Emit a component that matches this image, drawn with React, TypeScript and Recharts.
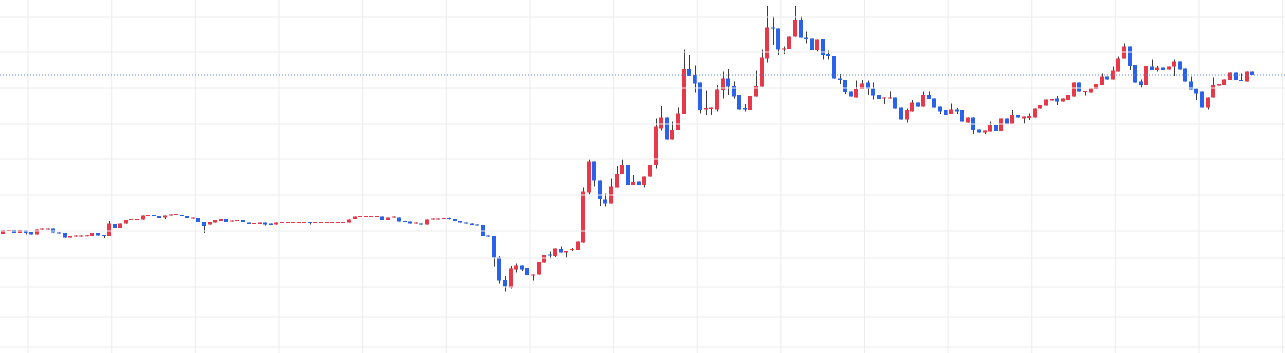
import { ComposedChart, Bar, XAxis, YAxis, ReferenceLine } from "recharts";

// daily OHLC (15 sessions per row = one grid column)
const opens = [
  2660, 2690, 2700, 2670, 2695, 2680, 2655, 2705, 2705, 2715, 2675, 2670, 2625, 2635, 2635,
  2638, 2640, 2670, 2650, 2640, 2760, 2720, 2765, 2800, 2800, 2805, 2840, 2850, 2840, 2825,
  2845, 2850, 2850, 2840, 2815, 2820, 2780, 2755, 2775, 2790, 2810, 2785, 2790, 2800, 2775,
  2760, 2760, 2775, 2765, 2755, 2770, 2770, 2770, 2770, 2770, 2780, 2770, 2770, 2770, 2770,
  2770, 2770, 2775, 2810, 2830, 2830, 2830, 2830, 2835, 2800, 2825, 2825, 2790, 2785, 2765,
  2765, 2755, 2805, 2805, 2810, 2820, 2810, 2790, 2775, 2765, 2755, 2750, 2645, 2640, 2425,
  2200, 2125, 2305, 2345, 2320, 2245, 2255, 2375, 2455, 2440, 2510, 2475, 2500, 2500, 2575,
  3075, 3385, 3195, 3005, 2965, 3125, 3260, 3350, 3150, 3185, 3150, 3235, 3350, 3715, 3825,
  3605, 3700, 3860, 4310, 4250, 4175, 3905, 3910, 3905, 4100, 4215, 4140, 4050, 3920, 3900,
  4035, 4135, 4415, 4725, 4715, 4505, 4510, 4635, 4800, 4625, 4615, 4500, 4610, 4460, 4440,
  4215, 4200, 4085, 4025, 4110, 4175, 4115, 4050, 4015, 4015, 4025, 3925, 3805, 3885, 3975,
  3935, 4050, 4015, 3935, 3900, 3860, 3905, 3900, 3775, 3825, 3705, 3675, 3685, 3750, 3690,
  3815, 3760, 3850, 3815, 3820, 3825, 3915, 3945, 3995, 4015, 3985, 4000, 4035, 4175, 4080,
  4075, 4110, 4150, 4235, 4205, 4285, 4415, 4535, 4350, 4185, 4150, 4335, 4300, 4325, 4305,
  4335, 4385, 4315, 4185, 4115, 4085, 3925, 4025, 4145, 4150, 4200, 4275, 4200, 4185, 4285,
];

const highs = [
  2695, 2700, 2700, 2700, 2695, 2680, 2705, 2715, 2715, 2715, 2675, 2670, 2640, 2645, 2645,
  2648, 2670, 2670, 2650, 2790, 2760, 2765, 2800, 2810, 2810, 2845, 2850, 2850, 2840, 2845,
  2855, 2860, 2850, 2840, 2825, 2820, 2780, 2780, 2800, 2810, 2810, 2795, 2800, 2800, 2775,
  2770, 2775, 2775, 2765, 2775, 2780, 2780, 2780, 2780, 2780, 2780, 2780, 2780, 2780, 2780,
  2780, 2780, 2805, 2835, 2840, 2840, 2840, 2840, 2835, 2825, 2835, 2825, 2790, 2785, 2775,
  2765, 2805, 2815, 2815, 2820, 2825, 2810, 2790, 2775, 2765, 2755, 2750, 2645, 2640, 2440,
  2240, 2340, 2365, 2345, 2320, 2255, 2380, 2450, 2485, 2515, 2535, 2490, 2520, 2585, 3125,
  3405, 3385, 3195, 3065, 3215, 3340, 3405, 3350, 3250, 3185, 3235, 3350, 3815, 3940, 3825,
  3785, 3925, 4505, 4450, 4345, 4175, 4095, 3925, 4150, 4285, 4310, 4185, 4050, 3960, 4040,
  4295, 4505, 4940, 4835, 4715, 4535, 4635, 4940, 4835, 4685, 4615, 4605, 4610, 4495, 4440,
  4260, 4200, 4085, 4195, 4200, 4195, 4175, 4050, 4025, 4085, 4025, 3925, 3915, 4000, 3975,
  4085, 4085, 4015, 3935, 3900, 3965, 3920, 3900, 3825, 3825, 3705, 3695, 3785, 3750, 3815,
  3815, 3900, 3850, 3835, 3865, 3915, 3950, 4005, 4010, 4040, 4015, 4050, 4175, 4175, 4090,
  4115, 4160, 4265, 4235, 4335, 4435, 4565, 4535, 4350, 4205, 4340, 4405, 4340, 4325, 4335,
  4405, 4385, 4315, 4235, 4115, 4085, 4025, 4225, 4160, 4205, 4275, 4275, 4265, 4285, 4285,
];

const lows = [
  2660, 2690, 2670, 2670, 2655, 2655, 2655, 2705, 2705, 2675, 2665, 2625, 2625, 2635, 2635,
  2638, 2640, 2645, 2620, 2640, 2720, 2720, 2765, 2800, 2800, 2805, 2840, 2840, 2820, 2810,
  2845, 2850, 2840, 2820, 2815, 2780, 2670, 2755, 2775, 2790, 2780, 2785, 2790, 2780, 2760,
  2760, 2760, 2745, 2750, 2755, 2770, 2770, 2770, 2770, 2770, 2755, 2770, 2770, 2770, 2770,
  2770, 2770, 2775, 2810, 2830, 2830, 2830, 2830, 2800, 2800, 2825, 2785, 2780, 2765, 2765,
  2755, 2755, 2805, 2805, 2810, 2805, 2790, 2775, 2765, 2750, 2745, 2640, 2635, 2335, 2165,
  2085, 2115, 2275, 2290, 2250, 2195, 2255, 2375, 2415, 2430, 2475, 2425, 2490, 2500, 2575,
  3055, 3135, 2940, 2935, 2965, 3125, 3260, 3150, 3150, 3150, 3125, 3235, 3315, 3695, 3605,
  3605, 3700, 3860, 4240, 4075, 3865, 3850, 3850, 3885, 4015, 4050, 4015, 3905, 3885, 3900,
  4035, 4135, 4375, 4550, 4450, 4460, 4510, 4635, 4625, 4565, 4500, 4485, 4405, 4405, 4215,
  4160, 4060, 4035, 4025, 4110, 4050, 4005, 4010, 3960, 4015, 3915, 3805, 3775, 3885, 3935,
  3935, 4010, 3925, 3860, 3850, 3860, 3860, 3785, 3775, 3660, 3675, 3660, 3685, 3690, 3690,
  3760, 3760, 3825, 3765, 3800, 3825, 3915, 3945, 3995, 3950, 3985, 4000, 4035, 4085, 4045,
  4075, 4110, 4150, 4205, 4205, 4285, 4415, 4300, 4175, 4125, 4150, 4300, 4285, 4300, 4305,
  4240, 4305, 4185, 4105, 4000, 3925, 3905, 4025, 4145, 4150, 4200, 4200, 4190, 4185, 4250,
];

const closes = [
  2695, 2700, 2670, 2700, 2670, 2655, 2705, 2715, 2715, 2675, 2665, 2625, 2640, 2645, 2645,
  2648, 2670, 2645, 2640, 2765, 2720, 2765, 2800, 2810, 2810, 2845, 2850, 2840, 2820, 2845,
  2855, 2860, 2840, 2820, 2825, 2780, 2740, 2780, 2800, 2810, 2780, 2795, 2800, 2780, 2760,
  2770, 2775, 2755, 2750, 2775, 2780, 2780, 2780, 2780, 2780, 2770, 2780, 2780, 2780, 2780,
  2780, 2780, 2805, 2835, 2840, 2840, 2840, 2840, 2800, 2825, 2835, 2785, 2780, 2765, 2775,
  2755, 2805, 2815, 2815, 2820, 2815, 2790, 2775, 2765, 2750, 2745, 2640, 2635, 2425, 2195,
  2135, 2315, 2345, 2305, 2250, 2255, 2380, 2450, 2445, 2515, 2475, 2490, 2510, 2585, 3085,
  3385, 3195, 3010, 2965, 3135, 3260, 3350, 3150, 3180, 3150, 3235, 3350, 3735, 3825, 3605,
  3700, 3865, 4310, 4240, 4165, 3900, 3920, 3925, 4105, 4215, 4135, 4035, 3905, 3905, 4040,
  4140, 4425, 4725, 4715, 4505, 4515, 4635, 4800, 4625, 4610, 4500, 4605, 4450, 4440, 4215,
  4200, 4080, 4035, 4110, 4165, 4115, 4045, 4010, 4025, 4025, 3915, 3805, 3900, 3975, 3935,
  4050, 4010, 3925, 3885, 3850, 3905, 3885, 3785, 3825, 3700, 3675, 3695, 3750, 3690, 3815,
  3760, 3850, 3825, 3835, 3840, 3915, 3950, 4005, 4010, 3985, 4015, 4050, 4175, 4085, 4090,
  4115, 4160, 4235, 4205, 4295, 4415, 4535, 4340, 4175, 4150, 4340, 4300, 4325, 4300, 4335,
  4385, 4305, 4185, 4105, 4065, 3925, 4025, 4150, 4160, 4205, 4275, 4200, 4190, 4285, 4250,
];

const priceGrid = [4830, 4480, 4120, 3760, 3410, 3050, 2690, 2420, 2130, 1830, 1530];
const dayGrid = [4.5, 19.5, 34.5, 49.5, 64.5, 79.5, 94.5, 109.5, 124.5, 139.5, 154.5, 169.5, 184.5, 199.5, 214.5, 229.5];
const lastPrice = 4250;

const UP = "#e8394a";
const DOWN = "#2a62ec";
const GRID = "#ececec";

const data = opens.map((open, i) => ({
  idx: i,
  open,
  high: highs[i],
  low: lows[i],
  close: closes[i],
}));

function Candle(props: any) {
  const { x, y, width, height, payload } = props;
  if (!payload) return null;
  const { open, high, low, close } = payload;
  const color = close >= open ? UP : DOWN;
  const ratio = height / (high - low || 1);
  const cx = Math.round(x + width / 2);
  const bodyTop = y + (high - Math.max(open, close)) * ratio;
  const bodyH = Math.max(1, Math.abs(open - close) * ratio);
  return (
    <g>
      <rect x={cx} y={y} width={1} height={Math.max(height, 1)} fill="#3d3d3d" />
      <rect x={cx - 2} y={bodyTop} width={4} height={bodyH} fill={color} />
    </g>
  );
}

export default function App() {
  return (
    <div style={{ position: "absolute", left: 0, top: 0, width: 1285, height: 353, background: "#fff" }}>
      <ComposedChart width={1285} height={353} data={data} margin={{ top: 0, right: 0, bottom: 0, left: 0 }}>
        <XAxis
          dataKey="idx"
          type="number"
          domain={[-0.54, 229.91]}
          allowDataOverflow
          hide
        />
        <YAxis type="number" domain={[1470, 5000]} allowDataOverflow hide />
        {priceGrid.map((p) => (
          <ReferenceLine key={"h" + p} y={p} stroke={GRID} strokeWidth={1} />
        ))}
        {dayGrid.map((d) => (
          <ReferenceLine key={"v" + d} x={d} stroke={GRID} strokeWidth={1} />
        ))}
        <ReferenceLine y={lastPrice} stroke="#5a82f0" strokeDasharray="1 2" />
        <Bar
          dataKey={(d: any) => [d.low, d.high]}
          barSize={4}
          shape={Candle}
          isAnimationActive={false}
        />
      </ComposedChart>
    </div>
  );
}
